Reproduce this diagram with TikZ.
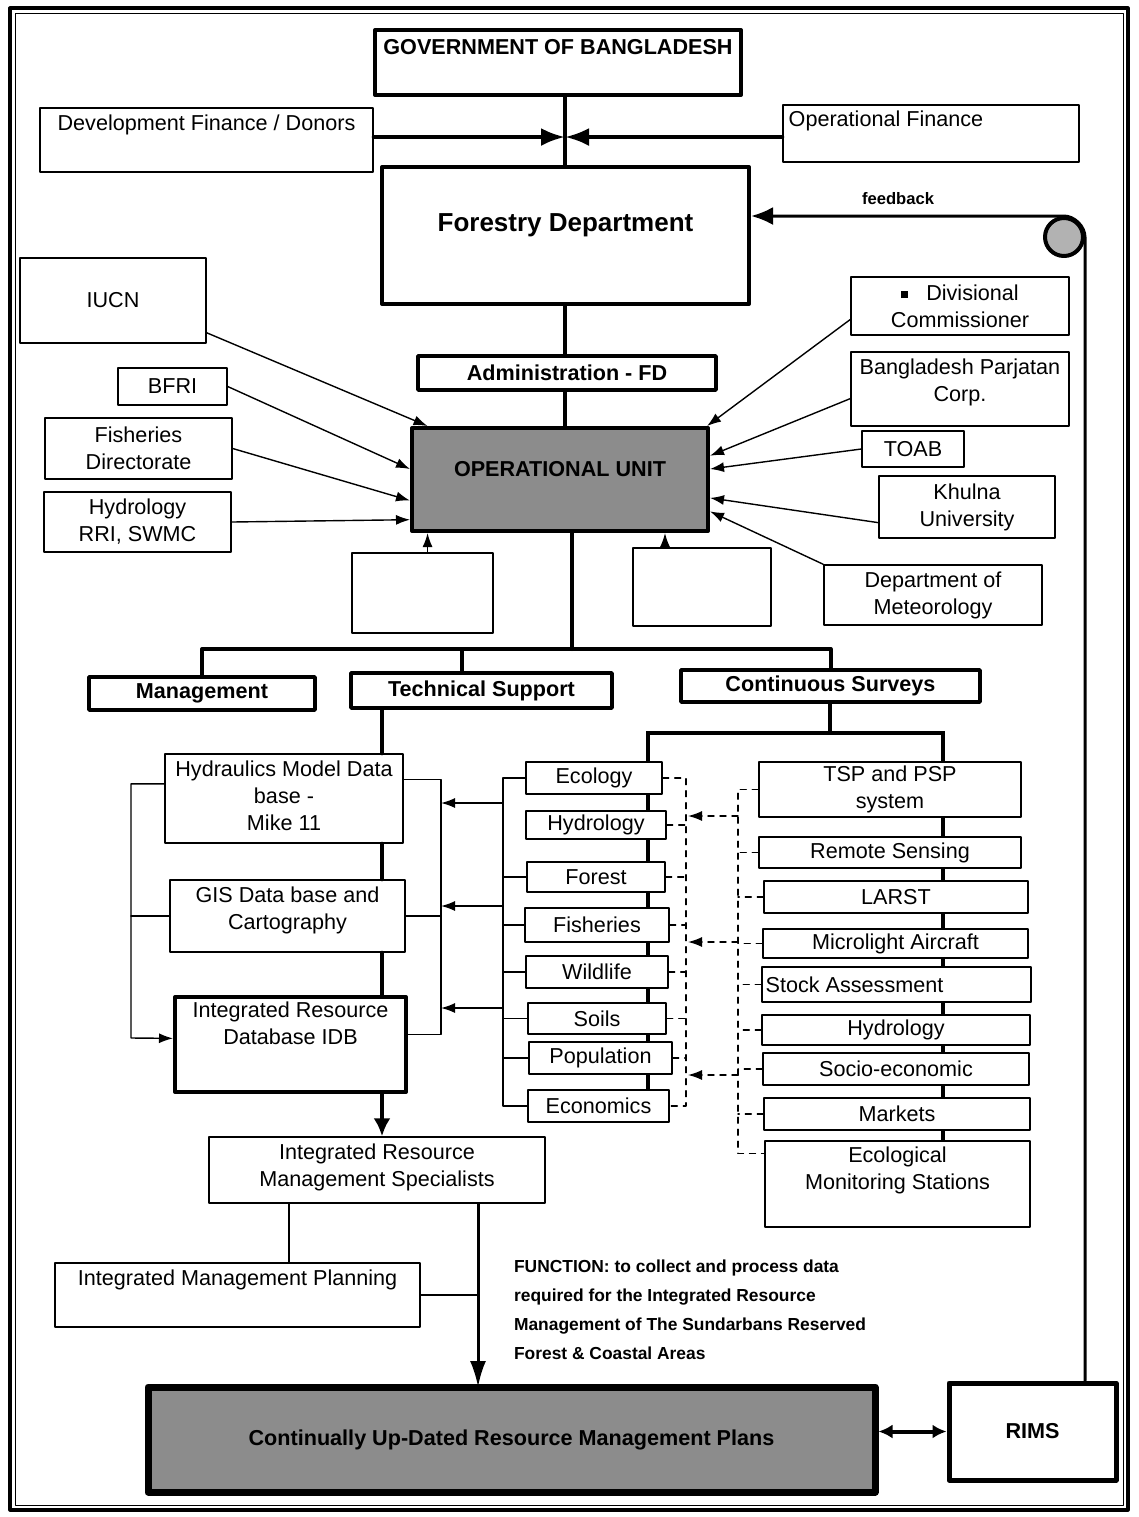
\documentclass[tikz,border=0pt]{standalone}
\usepackage{fontspec}
\setmainfont{Liberation Sans}
\usetikzlibrary{arrows.meta,backgrounds}

\begin{document}
\begin{tikzpicture}[
		x = .5pt,
		y = -.5pt,
		line join = round,
		line cap = round,
		> = {Latex[length=7pt,width=5pt]},
		font = \fontsize{10.8}{13.5}\selectfont,
		align = center,
		box/.style = {draw, fill=white, line width=.7pt, inner sep=0pt},
		heavy/.style = {box, line width=2pt},
		head/.style = {box, line width=1.8pt, font=\fontsize{10.8}{13.5}\selectfont\bfseries},
		boldtext/.style = {font=\fontsize{10.8}{13.5}\selectfont\bfseries},
		dark/.style = {fill=black!45},
		trunk/.style = {line width=2pt},
		link/.style = {line width=.7pt},
		dashlink/.style = {line width=.7pt, dash pattern=on 3pt off 3pt},
		]
\useasboundingbox (0,0) rectangle (1139,1517);
\draw[line width=1.6pt]	(10,8) rectangle (1128,1510);
\draw[line width=.5pt]	(15,13) rectangle (1123,1505);

% top part
\node[heavy, minimum width=183pt, minimum height=32.5pt] (gov) at (558,62.5) {};
\node[below=2pt, boldtext] (govlab) at (gov.north) {GOVERNMENT OF BANGLADESH};
\node[box, minimum width=166.5pt, minimum height=32pt] (devfin) at (206.5,140) {};
\node[below] (devfinlab) at (devfin.north) {Development Finance / Donors};
\node[box, minimum width=148pt, minimum height=28.5pt] (opfin) at (931,133.5) {};
\node[below right, inner sep=3pt] (opfinlab) at (opfin.north west) {Operational Finance};
\node[heavy, minimum width=183.5pt, minimum height=68.5pt] (forestry) at (565.5,235.5) {};
\node[font=\fontsize{13}{15}\selectfont\bfseries] (forlab) at ([yshift=-30pt]forestry.north) {Forestry Department};
\node[font=\fontsize{8.3}{10}\selectfont\bfseries] (fblab) at (898,199) {feedback};
\node[circle, draw, line width=2pt, fill=black!30, minimum size=19pt, inner sep=0pt] (loop) at (1064,237) {};

% partners round the operational unit
\node[box, minimum width=93pt, minimum height=42.5pt] (iucn) at (113,300.5) {IUCN};
\node[box, minimum width=109pt, minimum height=29pt] (divcomm) at (960,306) {\rule[1pt]{3.5pt}{3.5pt}\hspace{9pt}Divisional\\Commissioner};
\node[head, minimum width=149pt, minimum height=17pt] (admin) at (567,373) {Administration - FD};
\node[box, minimum width=54.5pt, minimum height=18.5pt] (bfri) at (172.5,386.5) {BFRI};
\node[box, minimum width=109pt, minimum height=37pt] (bpc) at (960,389) {};
\node[below] (bpclab) at (bpc.north) {Bangladesh Parjatan\\Corp.};
\node[box, minimum width=93.5pt, minimum height=30.5pt] (fishdir) at (138.5,448.5) {Fisheries\\Directorate};
\node[box, minimum width=51pt, minimum height=18pt] (toab) at (913,449) {TOAB};
\node[heavy, dark, minimum width=148pt, minimum height=51.5pt] (opunit) at (560,479.5) {};
\node[boldtext] (opunitlab) at ([yshift=5pt]opunit.center) {OPERATIONAL UNIT};
\node[box, minimum width=88pt, minimum height=31pt] (khulna) at (967,507) {Khulna\\University};
\node[box, minimum width=93.5pt, minimum height=30pt] (hydrri) at (137.5,522) {Hydrology\\RRI, SWMC};
\node[box, minimum width=70.5pt, minimum height=40pt] (blank1) at (422.5,593) {};
\node[box, minimum width=69pt, minimum height=39pt] (blank2) at (702,587) {};
\node[box, minimum width=109pt, minimum height=30pt] (meteo) at (933,595) {Department of\\Meteorology};

% sections
\node[head, minimum width=113pt, minimum height=16.5pt] (management) at (202,693.5) {Management};
\node[head, minimum width=130.5pt, minimum height=17.5pt] (techsup) at (481.5,690.5) {Technical Support};
\node[head, minimum width=149.5pt, minimum height=16pt] (contsurv) at (830.5,686) {Continuous Surveys};

% technical support
\node[box, minimum width=119pt, minimum height=44.5pt] (hydmodel) at (284,798.5) {};
\node[below] (hydmodellab) at (hydmodel.north) {Hydraulics Model Data\\base -\\Mike 11};
\node[box, minimum width=117.5pt, minimum height=36pt] (gis) at (287.5,916) {};
\node[below] (gislab) at (gis.north) {GIS Data base and\\Cartography};
\node[heavy, minimum width=115.5pt, minimum height=47.5pt] (idb) at (290.5,1044.5) {};
\node[below] (idblab) at (idb.north) {Integrated Resource\\Database IDB};
\node[box, minimum width=168pt, minimum height=33pt] (irms) at (377,1170) {};
\node[below] (irmslab) at (irms.north) {Integrated Resource\\Management Specialists};
\node[box, minimum width=182.5pt, minimum height=32pt] (imp) at (237.5,1295) {};
\node[below] (implab) at (imp.north) {Integrated Management Planning};

% continuous surveys
\node[box, minimum width=68pt, minimum height=16pt] (ecology) at (594,778) {Ecology};
\node[box, minimum width=70pt, minimum height=14pt] (hydro1) at (596,825) {Hydrology};
\node[box, minimum width=69pt, minimum height=15pt] (forest) at (596,877) {Forest};
\node[box, minimum width=72pt, minimum height=17pt] (fisheries) at (597,925) {Fisheries};
\node[box, minimum width=71pt, minimum height=16pt] (wildlife) at (597,972) {Wildlife};
\node[box, minimum width=69pt, minimum height=15.5pt] (soils) at (597,1018.5) {Soils};
\node[box, minimum width=71.5pt, minimum height=16pt] (population) at (600.5,1058) {Population};
\node[box, minimum width=70.5pt, minimum height=16pt] (economics) at (598.5,1106) {Economics};

\node[box, minimum width=131pt, minimum height=27.5pt] (tsp) at (890,789.5) {TSP and PSP\\system};
\node[box, minimum width=131pt, minimum height=15.5pt] (remote) at (890,852.5) {Remote Sensing};
\node[box, minimum width=132pt, minimum height=16pt] (larst) at (896,897) {LARST};
\node[box, minimum width=132.5pt, minimum height=14.5pt] (microlight) at (895.5,943.5) {Microlight Aircraft};
\node[box, minimum width=134.5pt, minimum height=17.5pt] (stock) at (896.5,984.5) {};
\node[right, inner sep=2pt] (stocklab) at (stock.west) {Stock Assessment};
\node[box, minimum width=134pt, minimum height=15pt] (hydro2) at (896,1030) {Hydrology};
\node[box, minimum width=133pt, minimum height=16pt] (socio) at (896,1069) {Socio-economic};
\node[box, minimum width=133pt, minimum height=16pt] (markets) at (897,1114) {Markets};
\node[box, line width=1.3pt, minimum width=132.5pt, minimum height=43pt] (ecomon) at (897.5,1184) {};
\node[below] (ecomonlab) at (ecomon.north) {Ecological\\Monitoring Stations};

% bottom
\node[box, dark, line width=3.5pt, minimum width=363.5pt, minimum height=52.5pt, boldtext] (plans) at (511.5,1439.5) {Continually Up-Dated Resource Management Plans};
\node[box, line width=2.5pt, minimum width=83.5pt, minimum height=48.5pt, boldtext] (rims) at (1032.5,1431.5) {RIMS};
\node[anchor=north west, align=left, font=\fontsize{8.7}{14.5}\selectfont\bfseries] (function) at (507,1253)
	{FUNCTION: to collect and process data\\required for the Integrated Resource\\Management of The Sundarbans Reserved\\Forest \& Coastal Areas};

% connectors
\coordinate (meet) at (565,137);
\draw[trunk]	(gov.south -| meet) -- (forestry.north -| meet)
		(forestry.south -| meet) -- (admin.north -| meet)
		(admin.south -| meet) -- (opunit.north -| meet);
\draw[trunk, -{Latex[length=12pt,width=9pt]}]	(devfin.east |- meet) -- (meet);
\draw[trunk, -{Latex[length=12pt,width=9pt]}]	(opfin.west |- meet) -- (meet);
\draw[line width=1.5pt, -{Latex[length=11pt,width=9pt]}]	(rims.north -| loop.east) -- (loop.east)
		.. controls +(0,-10.5) and +(10.5,0) .. (loop.north) -- (forestry.east |- loop.north);

\draw[link, ->]	(iucn.341) -- (opunit.158);
\draw[link, ->]	(bfri.east) -- (opunit.176);
\draw[link, ->]	(fishdir.east) -- (opunit.188);
\draw[link, ->]	(hydrri.east) -- (opunit.195);
\draw[link, ->]	(divcomm.187) -- (opunit.20);
\draw[link, ->]	(bpc.185) -- (opunit.9);
\draw[link, ->]	(toab.west) -- (opunit.4);
\draw[link, ->]	(khulna.190) -- (opunit.353);
\draw[link, ->]	(meteo.north west) -- (opunit.348);
\draw[link, ->]	(opunit.202 |- blank1.north) -- (opunit.202);
\draw[link, ->]	(opunit.333 |- blank2.north) -- (opunit.333);

\coordinate (bus) at (572,649);
\coordinate (tsdrop) at (462,649);
\draw[trunk]	(opunit.south -| bus) -- (bus)
		(management.north) |- (bus) -| (contsurv.north)
		(tsdrop) -- (techsup.north -| tsdrop);

\coordinate (tcol) at (382,754);
\draw[trunk]	(techsup.south -| tcol) -- (hydmodel.north -| tcol)
		(hydmodel.south -| tcol) -- (gis.north -| tcol)
		(gis.south -| tcol) -- (idb.north -| tcol);
\draw[trunk, -{Latex[length=9pt,width=8.5pt]}]	(idb.south -| tcol) -- (irms.north -| tcol);

\coordinate (lloop) at (131,1038);
\coordinate (rloop) at (441,900);
\draw[link, ->]	(hydmodel.173) -| (lloop) -- (idb.177);
\draw[link]	(gis.west) -- (gis.west -| lloop)
		(hydmodel.9) -| (rloop) |- (idb.5)
		(gis.east) -- (gis.east -| rloop);

\coordinate (cs) at (830,733);
\coordinate (lcol) at (648,733);
\coordinate (rcol) at (943,733);
\begin{scope}[on background layer]
\draw[line width=2.4pt]	(contsurv.south -| cs) -- (cs)
		(economics.north -| lcol) -- (lcol) -- (rcol) -- (ecomon.north -| rcol);
\end{scope}

\coordinate (lbar) at (503,778);
\draw[link]	(ecology.west) -- (ecology.west -| lbar) -- (economics.west -| lbar) -- (economics.west)
		(forest.west) -- (forest.west -| lbar)
		(fisheries.west) -- (fisheries.west -| lbar)
		(wildlife.west) -- (wildlife.west -| lbar)
		(soils.west) -- (soils.west -| lbar)
		(population.west) -- (population.west -| lbar);
\coordinate (in1) at (503,803);
\coordinate (in2) at (503,906);
\coordinate (in3) at (503,1008);
\draw[link, ->]	(in1) -- (in1 -| rloop);
\draw[link, ->]	(in2) -- (in2 -| rloop);
\draw[link, ->]	(in3) -- (in3 -| rloop);

\coordinate (ldash) at (686,778);
\draw[dashlink]	(ecology.east) -- (ecology.east -| ldash) -- (economics.east -| ldash) -- (economics.east)
		(hydro1.east) -- (hydro1.east -| ldash)
		(forest.east) -- (forest.east -| ldash)
		(fisheries.east) -- (fisheries.east -| ldash)
		(wildlife.east) -- (wildlife.east -| ldash)
		(soils.east) -- (soils.east -| ldash)
		(population.east) -- (population.east -| ldash);
\coordinate (rdash) at (738,790);
\coordinate (ecostub) at ([yshift=-7pt]ecomon.north west);
\draw[dashlink]	(tsp.west) -- (tsp.west -| rdash) -- (ecostub -| rdash) -- (ecostub)
		(remote.west) -- (remote.west -| rdash)
		(larst.west) -- (larst.west -| rdash)
		(microlight.west) -- (microlight.west -| rdash)
		(stock.west) -- (stock.west -| rdash)
		(hydro2.west) -- (hydro2.west -| rdash)
		(socio.west) -- (socio.west -| rdash)
		(markets.west) -- (markets.west -| rdash);
\coordinate (d1) at (738,816);
\coordinate (d2) at (738,942);
\coordinate (d3) at (738,1075);
\draw[dashlink, ->, shorten >=1pt]	(d1) -- (d1 -| ldash);
\draw[dashlink, ->, shorten >=1pt]	(d2) -- (d2 -| ldash);
\draw[dashlink, ->, shorten >=1pt]	(d3) -- (d3 -| ldash);

\coordinate (imptop) at (289,1263);
\coordinate (plantop) at (478,1387);
\draw[link]	(irms.south -| imptop) -- (imptop)
		(imp.east) -- (imp.east -| plantop);
\draw[line width=1.5pt, -{Latex[length=13pt,width=8pt]}]	(irms.south -| plantop) -- (plantop);
\draw[line width=2pt, {Latex[length=7pt,width=7pt]}-{Latex[length=7pt,width=7pt]}]	(plans.east |- rims.west) -- (rims.west);
\end{tikzpicture}
\end{document}
